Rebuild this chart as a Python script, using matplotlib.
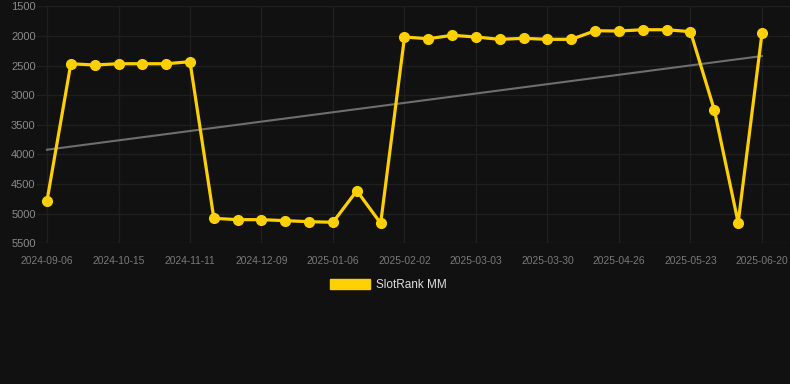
import numpy as np
import matplotlib.pyplot as plt

# rank values, one per sample (lower is better, axis inverted)
ranks = [4781, 2468, 2490, 2468, 2468, 2468, 2434, 5078, 5101, 5101,
         5118, 5135, 5145, 4612, 5162, 2017, 2046, 1988, 2017, 2056,
         2039, 2056, 2056, 1911, 1916, 1894, 1894, 1927, 3249, 5152,
         1954]
trend_ends = [3920, 2338]
tick_labels = ['2024-09-06', '2024-10-15', '2024-11-11', '2024-12-09',
               '2025-01-06', '2025-02-02', '2025-03-03', '2025-03-30',
               '2025-04-26', '2025-05-23', '2025-06-20']
y_ticks = [1500, 2000, 2500, 3000, 3500, 4000, 4500, 5000, 5500]
series_name = 'SlotRank MM'

bg = '#111111'
gold = '#FFD000'

plt.rcParams['font.family'] = ['Liberation Sans', 'DejaVu Sans']

fig = plt.figure(figsize=(7.9, 3.84), dpi=100, facecolor=bg)
ax = fig.add_axes([37 / 790, 1 - 243.3 / 384, 1 - 37 / 790, (243.3 - 6.4) / 384])
ax.set_facecolor(bg)

x = np.arange(len(ranks))

# trend line
ax.plot([x[0], x[-1]], trend_ends, color='#6e6e6e', lw=1.5, zorder=2)

ax.plot(x, ranks, color=gold, lw=2.3, marker='o', ms=7, zorder=3, label=series_name)

ax.set_xlim(-10 / 23.83, 30 + 28 / 23.83)
ax.set_ylim(5500, 1500)
ax.set_yticks(y_ticks)
ax.set_xticks(x[::3])
ax.set_xticklabels(tick_labels)

ax.grid(True, color='#1f1f1f', lw=1)
ax.set_axisbelow(True)
for s in ax.spines.values():
    s.set_visible(False)
ax.tick_params(axis='y', length=0, pad=1, labelsize=8, labelcolor='#8a8a8a')
ax.tick_params(axis='x', length=0, pad=9, labelsize=7.4, labelcolor='#7a7a7a')

leg = fig.legend(handles=[plt.Rectangle((0, 0), 1, 1, color=gold)], labels=[series_name],
                 loc='center', bbox_to_anchor=(0.492, 1 - 285 / 384), frameon=False,
                 handlelength=3.4, handleheight=1.0, handletextpad=0.5,
                 fontsize=8.5, labelcolor='#dddddd')

fig.savefig('out.png', dpi=100, facecolor=bg)
